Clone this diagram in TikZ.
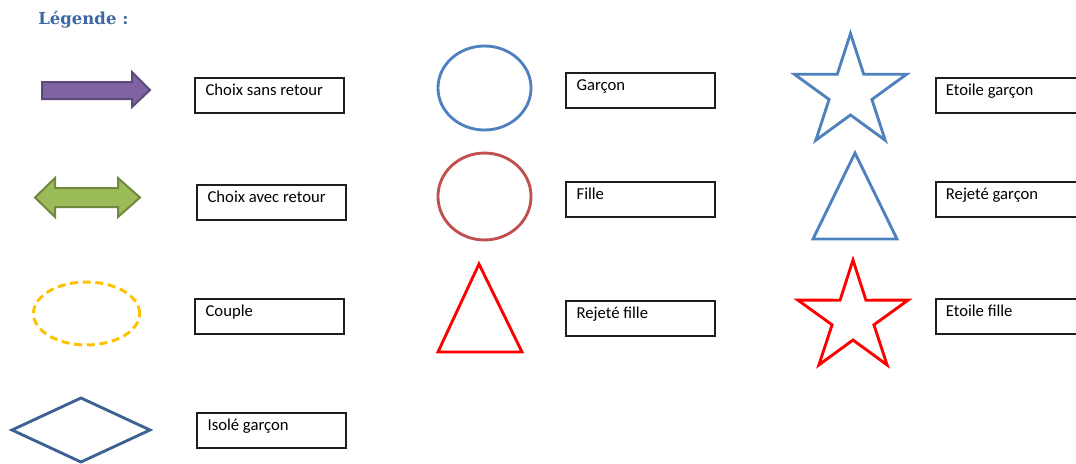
\documentclass[tikz,border=0pt]{standalone}
\usepackage{fontspec}
\setmainfont{Carlito}
\newfontfamily\titlefont{DejaVu Serif}
\definecolor{titleblue}{HTML}{3D67A0}
\definecolor{purplefill}{HTML}{8064A2}
\definecolor{purpleline}{HTML}{5C4A7A}
\definecolor{greenfill}{HTML}{9BBB59}
\definecolor{greenline}{HTML}{71893F}
\definecolor{coupleyellow}{HTML}{FFC000}
\definecolor{diamondblue}{HTML}{3E6194}
\definecolor{boyblue}{HTML}{4F81BD}
\definecolor{girlbrown}{HTML}{C0504D}
\definecolor{pureRed}{HTML}{FF0000}
\definecolor{boxline}{HTML}{1E1E1E}
\begin{document}
\begin{tikzpicture}[x=0.75pt,y=-0.75pt,
  lbox/.style={draw=boxline,line width=1.3pt,minimum width=111.75pt,minimum height=26.25pt,inner sep=0pt,anchor=north west},
  ltext/.style={anchor=base west,inner sep=0pt,font=\fontsize{12.5}{14}\selectfont,text=black},
  shapeline/.style={line width=2.15pt,line join=miter}]
\useasboundingbox (0,0) rectangle (1076,464);
\clip (0,0) rectangle (1076,464);

% title
\node[anchor=base west,inner sep=0pt,text=titleblue,font=\titlefont\bfseries\fontsize{12.4}{14}\selectfont] (title) at (38,24) {Légende :};

% left column shapes
\filldraw[fill=purplefill,draw=purpleline,line width=1.5pt,line join=miter]
  (42,82) -- (132,82) -- (132,72) -- (150,90) -- (132,107) -- (132,99) -- (42,99) -- cycle;
\filldraw[fill=greenfill,draw=greenline,line width=1.5pt,line join=miter]
  (35,197.5) -- (55,178) -- (55,188) -- (118,188) -- (118,178) -- (140,197.5)
  -- (118,217) -- (118,207) -- (55,207) -- (55,217) -- cycle;
\draw[coupleyellow,line width=2.2pt,dash pattern=on 6pt off 3.5pt] (86.5,313.5) ellipse [x radius=39.8pt,y radius=23.6pt];
\draw[diamondblue,shapeline] (12,430) -- (81,398) -- (150,430) -- (81,462) -- cycle;

% middle column shapes
\draw[boyblue,shapeline] (484.5,88) ellipse [x radius=34.9pt,y radius=31.5pt];
\draw[girlbrown,shapeline] (484.5,196.5) ellipse [x radius=34.9pt,y radius=32.6pt];
\draw[pureRed,shapeline] (479,264) -- (522,352) -- (438,352) -- cycle;

% right column shapes
\foreach \i in {0,...,9}{
  \pgfmathsetmacro\rr{mod(\i,2)==0 ? 59 : 22.5}
  \coordinate (bs\i) at ({850.5+\rr*cos(90+36*\i)},{92.5-\rr*sin(90+36*\i)});
  \pgfmathsetmacro\rs{mod(\i,2)==0 ? 58 : 22}
  \coordinate (rs\i) at ({853+\rs*cos(90+36*\i)},{318-\rs*sin(90+36*\i)});
}
\draw[boyblue,shapeline] (bs0) -- (bs1) -- (bs2) -- (bs3) -- (bs4) -- (bs5) -- (bs6) -- (bs7) -- (bs8) -- (bs9) -- cycle;
\draw[boyblue,shapeline] (855,153) -- (897,239) -- (813,239) -- cycle;
\draw[pureRed,shapeline] (rs0) -- (rs1) -- (rs2) -- (rs3) -- (rs4) -- (rs5) -- (rs6) -- (rs7) -- (rs8) -- (rs9) -- cycle;

% label boxes
\node[lbox] (b1) at (194,77) {};
\node[ltext] (t1) at ([xshift=8.5pt,yshift=-13.5pt]b1.north west) {Choix sans retour};
\node[lbox] (b2) at (196,184) {};
\node[ltext] (t2) at ([xshift=8.5pt,yshift=-13.5pt]b2.north west) {Choix avec retour};
\node[lbox] (b3) at (194,298) {};
\node[ltext] (t3) at ([xshift=8.5pt,yshift=-14pt]b3.north west) {Couple};
\node[lbox] (b4) at (196,412) {};
\node[ltext] (t4) at ([xshift=8.5pt,yshift=-13.5pt]b4.north west) {Isolé garçon};

\node[lbox] (b5) at (565,72) {};
\node[ltext] (t5) at ([xshift=8.5pt,yshift=-13.5pt]b5.north west) {Garçon};
\node[lbox] (b6) at (565,181) {};
\node[ltext] (t6) at ([xshift=8.5pt,yshift=-13.5pt]b6.north west) {Fille};
\node[lbox] (b7) at (565,300) {};
\node[ltext] (t7) at ([xshift=8.5pt,yshift=-13.5pt]b7.north west) {Rejeté fille};

\node[lbox] (b8) at (935,77) {};
\node[ltext] (t8) at ([xshift=8pt,yshift=-13.5pt]b8.north west) {Etoile garçon};
\node[lbox] (b9) at (935,181) {};
\node[ltext] (t9) at ([xshift=8pt,yshift=-13.5pt]b9.north west) {Rejeté garçon};
\node[lbox] (b10) at (935,298) {};
\node[ltext] (t10) at ([xshift=8pt,yshift=-13.5pt]b10.north west) {Etoile fille};
\end{tikzpicture}
\end{document}
